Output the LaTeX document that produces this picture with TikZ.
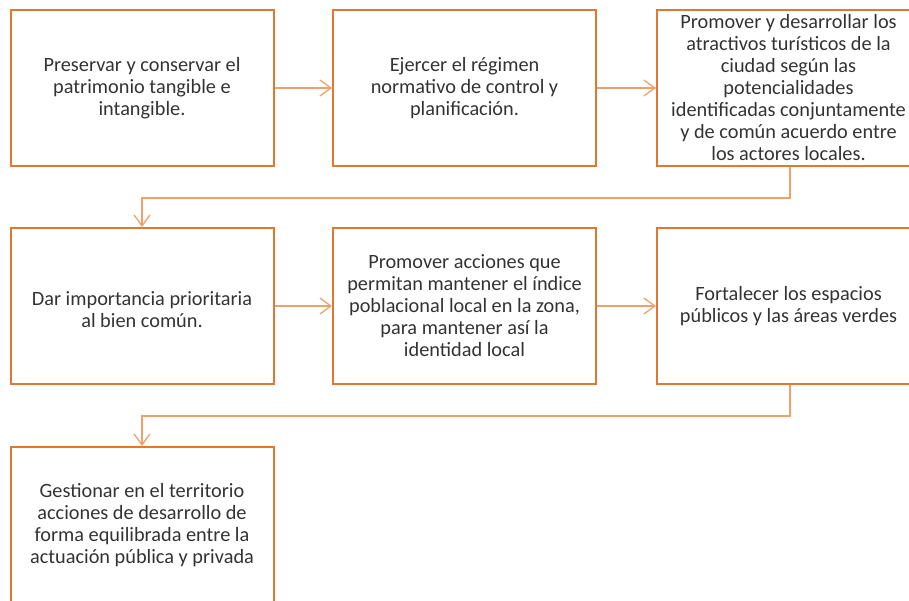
\documentclass[tikz,border=0pt]{standalone}
\usepackage{fontspec}
\setmainfont{Carlito}
\usetikzlibrary{arrows.meta}
\definecolor{boxline}{HTML}{E2772F}
\definecolor{conn}{HTML}{F0A06A}
\definecolor{txt}{HTML}{333333}
\begin{document}
\begin{tikzpicture}[x=1pt,y=1pt,
  stepbox/.style={draw=boxline, line width=2pt, minimum width=263pt, minimum height=156pt,
    inner sep=0pt, align=center, text=txt, font=\fontsize{20.3}{22}\selectfont},
  conn/.style={draw=conn, line width=1.5pt, -{Straight Barb[length=11pt,width=16pt,line width=1.3pt]}}]
\useasboundingbox (0,0) rectangle (909,-601);
\node[stepbox] (b1) at (142,-88) {Preservar y conservar el\\patrimonio tangible e\\intangible.};
\node[stepbox] (b2) at (464.5,-88) {Ejercer el régimen\\normativo de control y\\planificación.};
\node[stepbox] (b3) at (788.5,-88) {Promover y desarrollar los\\atractivos turísticos de la\\ciudad según las\\potencialidades\\identificadas conjuntamente\\y de común acuerdo entre\\los actores locales.};
\node[stepbox] (b4) at (142,-306) {\\Dar importancia prioritaria\\al bien común.};
\node[stepbox] (b5) at (464.5,-306) {Promover acciones que\\permitan mantener el índice\\poblacional local en la zona,\\para mantener así la\\identidad local};
\node[stepbox] (b6) at (788.5,-306) {Fortalecer los espacios\\públicos y las áreas verdes};
\node[stepbox] (b7) at (142,-525) {Gestionar en el territorio\\acciones de desarrollo de\\forma equilibrada entre la\\actuación pública y privada};
\draw[conn] (b1.east) -- (b2.west);
\draw[conn] (b2.east) -- (b3.west);
\draw[conn] (b4.east) -- (b5.west);
\draw[conn] (b5.east) -- (b6.west);
\coordinate (c1) at (790,-198);
\coordinate (c2) at (790,-416);
\draw[conn] (b3.south -| c1) -- (c1) -| (b4.north);
\draw[conn] (b6.south -| c2) -- (c2) -| (b7.north);
\end{tikzpicture}
\end{document}
